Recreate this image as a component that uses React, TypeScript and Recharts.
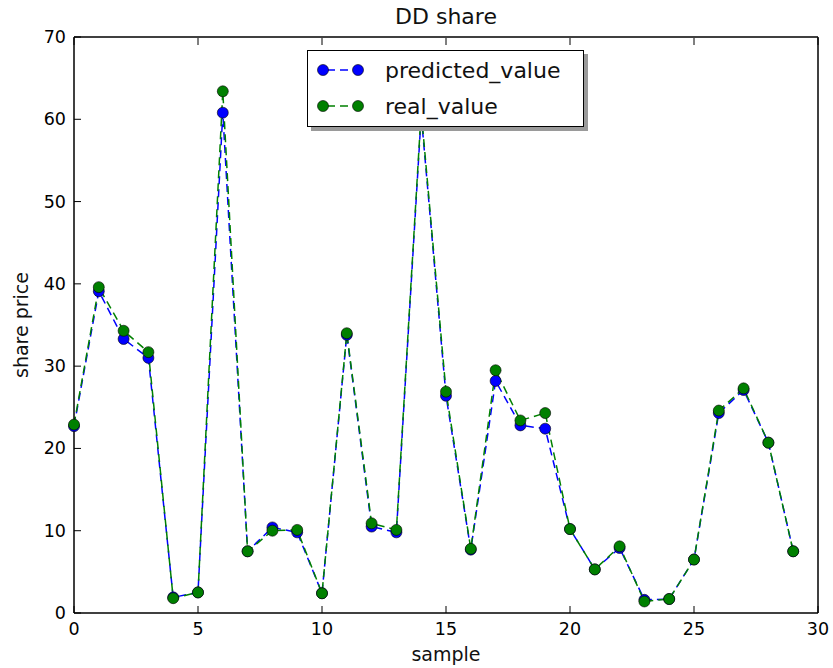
import { LineChart, Line, XAxis, YAxis, Legend } from 'recharts';

// values
const SAMPLES = [0, 1, 2, 3, 4, 5, 6, 7, 8, 9, 10, 11, 12, 13, 14, 15, 16, 17, 18, 19, 20, 21, 22, 23, 24, 25, 26, 27, 28, 29];
const PREDICTED = [22.7, 39.1, 33.3, 31.0, 1.9, 2.5, 60.8, 7.5, 10.4, 9.8, 2.4, 33.8, 10.5, 9.8, 60.5, 26.4, 7.7, 28.2, 22.8, 22.4, 10.2, 5.3, 7.9, 1.6, 1.7, 6.5, 24.3, 27.1, 20.7, 7.5];
const REAL = [22.9, 39.6, 34.3, 31.7, 1.8, 2.5, 63.4, 7.5, 10.0, 10.1, 2.4, 34.0, 10.9, 10.1, 61.0, 26.9, 7.8, 29.5, 23.4, 24.3, 10.2, 5.3, 8.1, 1.4, 1.7, 6.5, 24.6, 27.3, 20.7, 7.5];
const X_TICKS = [0, 5, 10, 15, 20, 25, 30];
const Y_TICKS = [0, 10, 20, 30, 40, 50, 60, 70];

const DATA = SAMPLES.map((s, i) => ({ sample: s, predicted_value: PREDICTED[i], real_value: REAL[i] }));

const FONT = '"DejaVu Sans", sans-serif';
const BLUE = '#0000ff';
const GREEN = '#008000';
const TICK_LEN = 7;

const BottomTick = ({ x, y, payload }: any) => (
  <g>
    <line x1={x} y1={y} x2={x} y2={y - TICK_LEN} stroke="#000" strokeWidth={1} />
    <text x={x} y={y + 22} textAnchor="middle" fontSize={17.5} fontFamily={FONT} fill="#000">{payload.value}</text>
  </g>
);

const TopTick = ({ x, y }: any) => (
  <line x1={x} y1={y + 1} x2={x} y2={y + 1 + TICK_LEN} stroke="#000" strokeWidth={1} />
);

const LeftTick = ({ x, y, payload }: any) => (
  <g>
    <line x1={x} y1={y} x2={x + TICK_LEN} y2={y} stroke="#000" strokeWidth={1} />
    <text x={x - 8} y={y + 6} textAnchor="end" fontSize={17.5} fontFamily={FONT} fill="#000">{payload.value}</text>
  </g>
);

const RightTick = ({ x, y }: any) => (
  <line x1={x - 1} y1={y} x2={x - 1 - TICK_LEN} y2={y} stroke="#000" strokeWidth={1} />
);

const LegendBox = () => {
  const rows = [
    { name: 'predicted_value', color: BLUE },
    { name: 'real_value', color: GREEN },
  ];
  return (
    <div style={{ width: 275, height: 75, border: '1.5px solid #000', background: '#fff', boxShadow: '4px 4px 0 #9a9a9a', position: 'relative' }}>
      {rows.map((r, i) => (
        <div key={r.name} style={{ position: 'absolute', left: 0, top: 4 + i * 36, height: 30, display: 'flex', alignItems: 'center' }}>
          <svg width={70} height={30}>
            <line x1={15} y1={15} x2={50} y2={15} stroke={r.color} strokeWidth={1.5} strokeDasharray="8 5" strokeDashoffset={-4} />
            <circle cx={15} cy={15} r={5.5} fill={r.color} stroke="#000" strokeWidth={0.6} />
            <circle cx={50} cy={15} r={5.5} fill={r.color} stroke="#000" strokeWidth={0.6} />
          </svg>
          <span style={{ marginLeft: 7, fontFamily: FONT, fontSize: 22, color: '#111' }}>{r.name}</span>
        </div>
      ))}
    </div>
  );
};

export default function App() {
  return (
    <div style={{ position: 'absolute', left: 0, top: 0, width: 833, height: 668, background: '#fff', fontFamily: FONT }}>
      <LineChart width={833} height={668} data={DATA} margin={{ top: 36, right: 14, bottom: 0, left: 0 }}>
        <XAxis
          xAxisId={0}
          dataKey="sample"
          type="number"
          domain={[0, 30]}
          ticks={X_TICKS}
          height={55}
          tickSize={0}
          tickMargin={0}
          tickLine={false}
          axisLine={{ stroke: '#000', strokeWidth: 1.5 }}
          tick={<BottomTick />}
          interval={0}
        />
        <XAxis
          xAxisId="top"
          orientation="top"
          dataKey="sample"
          type="number"
          domain={[0, 30]}
          ticks={X_TICKS}
          height={1}
          tickSize={0}
          tickMargin={0}
          tickLine={false}
          axisLine={{ stroke: '#000', strokeWidth: 1.5 }}
          tick={<TopTick />}
          interval={0}
        />
        <YAxis
          yAxisId={0}
          type="number"
          domain={[0, 70]}
          ticks={Y_TICKS}
          width={74}
          tickSize={0}
          tickMargin={0}
          tickLine={false}
          axisLine={{ stroke: '#000', strokeWidth: 1.5 }}
          tick={<LeftTick />}
          interval={0}
        />
        <YAxis
          yAxisId="right"
          orientation="right"
          type="number"
          domain={[0, 70]}
          ticks={Y_TICKS}
          width={1}
          tickSize={0}
          tickMargin={0}
          tickLine={false}
          axisLine={{ stroke: '#000', strokeWidth: 1.5 }}
          tick={<RightTick />}
          interval={0}
        />
        <Line
          type="linear"
          dataKey="predicted_value"
          stroke={BLUE}
          strokeWidth={1.5}
          strokeDasharray="8 5"
          dot={{ r: 5.5, fill: BLUE, stroke: '#000', strokeWidth: 0.6, strokeDasharray: '' }}
          activeDot={false}
          isAnimationActive={false}
        />
        <Line
          type="linear"
          dataKey="real_value"
          stroke={GREEN}
          strokeWidth={1.5}
          strokeDasharray="8 5"
          dot={{ r: 5.5, fill: GREEN, stroke: '#000', strokeWidth: 0.6, strokeDasharray: '' }}
          activeDot={false}
          isAnimationActive={false}
        />
        <Legend
          layout="vertical"
          align="center"
          verticalAlign="middle"
          content={<LegendBox />}
          wrapperStyle={{ position: 'absolute', left: 307, top: 50, width: 'auto', height: 'auto' }}
        />
      </LineChart>
      <div style={{ position: 'absolute', left: 74, width: 744, top: 4, textAlign: 'center', fontSize: 22, color: '#111' }}>DD share</div>
      <div style={{ position: 'absolute', left: 74, width: 744, top: 643, textAlign: 'center', fontSize: 19, color: '#111' }}>sample</div>
      <div style={{ position: 'absolute', left: 21, top: 325, transform: 'translate(-50%, -50%) rotate(-90deg)', whiteSpace: 'nowrap', fontSize: 19, color: '#111' }}>share price</div>
    </div>
  );
}
